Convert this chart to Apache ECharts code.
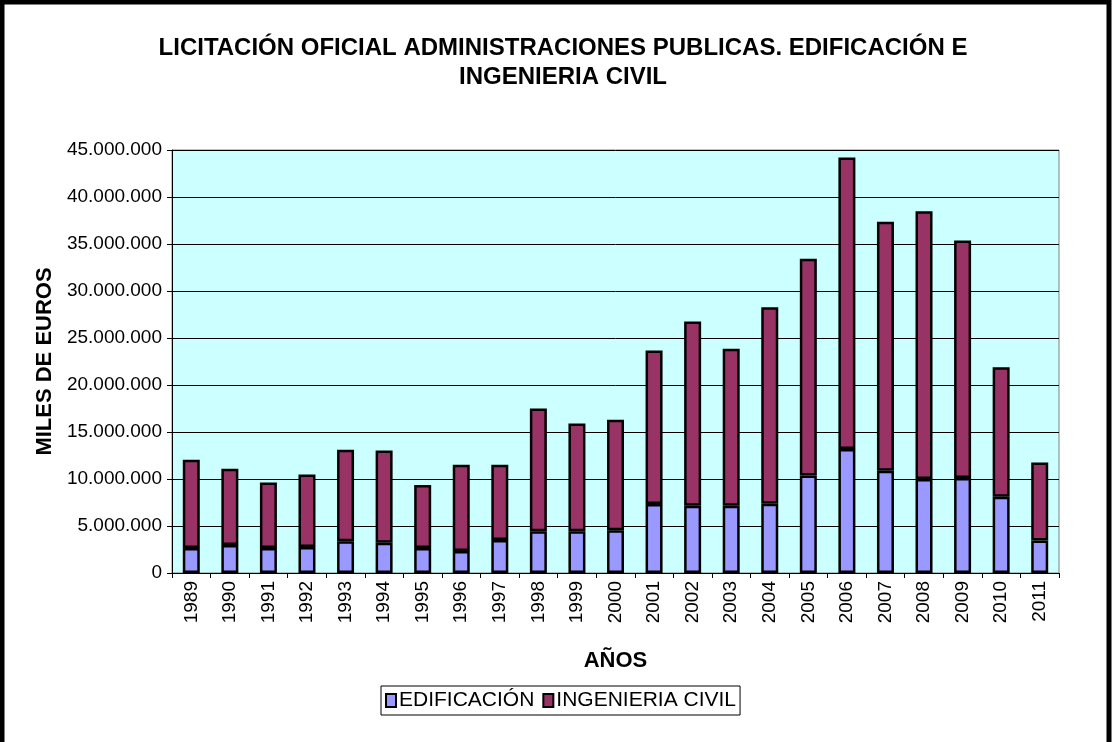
<!DOCTYPE html>
<html>
<head>
<meta charset="utf-8">
<script src="https://cdn.jsdelivr.net/npm/echarts@6/dist/echarts.min.js"></script>
<style>
  html, body { margin: 0; padding: 0; background: #fff; }
  #myChart { width: 1113px; height: 742px; }
</style>
</head>
<body>
<div id="myChart"></div>
<script>
// años
var years = ["1989", "1990", "1991", "1992", "1993", "1994", "1995", "1996", "1997", "1998", "1999",
  "2000", "2001", "2002", "2003", "2004", "2005", "2006", "2007", "2008", "2009", "2010", "2011"];
// miles de euros
var edificacion = [2660000, 2980000, 2660000, 2760000, 3370000, 3220000, 2660000, 2340000, 3510000, 4430000, 4430000,
  4540000, 7340000, 7160000, 7160000, 7370000, 10380000, 13180000, 10880000, 9990000, 10100000, 8110000, 3470000];
var ingenieriaCivil = [9390000, 8110000, 6980000, 7730000, 9740000, 9820000, 6700000, 9180000, 8010000, 13070000, 11480000,
  11760000, 16330000, 19590000, 16690000, 20910000, 23040000, 31010000, 26500000, 28490000, 25270000, 13790000, 8290000];
var seriesNames = ["EDIFICACIÓN", "INGENIERIA CIVIL"];
var yMin = 0, yMax = 45000000, yStep = 5000000;

function fmt(v) {
  return String(v).replace(/\B(?=(\d{3})+(?!\d))/g, ".");
}

var myChart = echarts.init(document.getElementById("myChart"));
myChart.setOption({
  animation: false,
  textStyle: { fontFamily: "Liberation Sans, Arial, sans-serif", color: "#000" },
  title: {
    text: "LICITACIÓN OFICIAL ADMINISTRACIONES PUBLICAS. EDIFICACIÓN E\nINGENIERIA CIVIL",
    left: 558,
    top: 29,
    textAlign: "center",
    textStyle: { fontSize: 24, fontWeight: "bold", lineHeight: 29, color: "#000",
      fontFamily: "Liberation Sans, Arial, sans-serif" }
  },
  graphic: [{
    type: "rect",
    shape: { x: 2, y: 2, width: 1107, height: 760 },
    style: { fill: "none", stroke: "#000", lineWidth: 5 },
    silent: true
  }],
  legend: {
    data: seriesNames,
    left: 381,
    top: 686,
    orient: "horizontal",
    itemWidth: 10,
    itemHeight: 13,
    itemGap: 8,
    padding: [4, 4, 4, 4],
    backgroundColor: "#fff",
    borderColor: "#000",
    borderWidth: 1,
    borderRadius: 0,
    icon: "rect",
    textStyle: { fontSize: 21, color: "#000", padding: [0, 0, 0, -2],
      fontFamily: "Liberation Sans, Arial, sans-serif" }
  },
  grid: {
    left: 172,
    right: 54,
    top: 150,
    bottom: 169,
    show: true,
    backgroundColor: "#CCFFFF",
    borderColor: "#808080",
    borderWidth: 1
  },
  xAxis: {
    type: "category",
    data: years,
    name: "AÑOS",
    nameLocation: "middle",
    nameGap: 77,
    nameTextStyle: { fontSize: 22, fontWeight: "bold", color: "#000" },
    axisLine: { lineStyle: { color: "#000", width: 1 } },
    axisTick: { show: true, length: 5, lineStyle: { color: "#000" } },
    axisLabel: { rotate: 90, fontSize: 19, color: "#000", margin: 8, interval: 0 }
  },
  yAxis: {
    type: "value",
    min: yMin,
    max: yMax,
    interval: yStep,
    name: "MILES DE EUROS",
    nameLocation: "middle",
    nameGap: 116,
    nameTextStyle: { fontSize: 22, fontWeight: "bold", color: "#000" },
    axisLine: { show: true, lineStyle: { color: "#000", width: 1 } },
    axisTick: { show: true, length: 5, lineStyle: { color: "#000" } },
    axisLabel: { fontSize: 19, color: "#000", margin: 10, formatter: fmt },
    splitLine: { show: true, lineStyle: { color: "#000", width: 1 } }
  },
  series: [
    {
      name: seriesNames[0],
      type: "bar",
      stack: "total",
      barWidth: 17,
      data: edificacion,
      itemStyle: { color: "#9999FF", borderColor: "#000", borderWidth: 2.5 }
    },
    {
      name: seriesNames[1],
      type: "bar",
      stack: "total",
      barWidth: 17,
      data: ingenieriaCivil,
      itemStyle: { color: "#993366", borderColor: "#000", borderWidth: 2.5 }
    }
  ]
});
</script>
</body>
</html>
